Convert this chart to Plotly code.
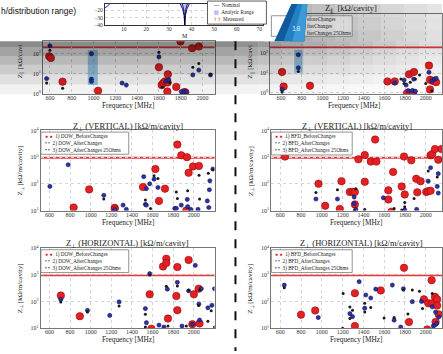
import plotly.graph_objects as go

W, H = 443, 354
SERIF = "Liberation Serif"
SANS = "Liberation Sans"


def X(p):
    return p / W


def Y(p):
    return 1 - p / H


# ---------------- data ----------------
freq_ticks = [600, 800, 1000, 1200, 1400, 1600, 1800, 2000]
z_ticks = [1, 10, 100, 1000, 10000]
z_ticktext = ["10<sup>0</sup>", "10<sup>1</sup>", "10<sup>2</sup>", "10<sup>3</sup>", "10<sup>4</sup>"]

# Panel A: Z_par DOW
A_red_f = [594, 609, 716, 1042, 1600, 1625, 1640, 1655, 1680, 1682, 1677, 1759, 1798, 1830, 1842, 1905, 1966]
A_red_z = [73, 60, 4.0, 1.4, 21, 2.7, 3.4, 4.1, 3.6, 9.3, 1.3, 2.2, 400, 1.2, 1.2, 185, 225]
A_blue_f = [570, 600, 981, 981, 981, 1262, 1301, 1600, 1665, 1690, 1805, 1835, 1850, 1911, 1966, 2073]
A_blue_z = [5.7, 240, 98, 5.3, 4.1, 3.4, 2.7, 68, 4.2, 5.0, 1.25, 1.3, 1.25, 8.6, 15, 8.6]
A_black_f = [570, 600, 717, 1600, 1630, 1700, 1911, 1966, 2073]
A_black_z = [3.4, 145, 1.9, 115, 2.1, 3.5, 21, 32, 9]
A_band_f = [948, 1039, 1039, 948]
A_band_z = [2.7, 2.7, 151, 151]
A_limit = 200

# Panel B: Z_par BFD
B_red_f = [610, 625, 880, 1629, 1700, 1820, 1838, 1875, 1886, 2031, 2041, 2070, 2041, 2100]
B_red_z = [11.5, 2.1, 2.3, 3.8, 3.8, 1.0, 8.7, 1.05, 11.5, 24, 4.6, 4.0, 1.5, 3.5]
B_blue_f = [767, 767, 610, 1700, 1790, 1810, 1883, 1830, 1870, 2031, 2060, 2085, 2100, 1900]
B_blue_z = [85, 18.6, 1.5, 3.2, 4.5, 2.5, 5.0, 1.3, 1.3, 11, 4.0, 5.0, 5.5, 1.2]
B_black_f = [610, 767, 1760, 1790, 1850, 1900, 1940, 2060, 2000]
B_black_z = [1.1, 12, 5.0, 3.0, 3.5, 5, 8, 1.3, 3.0]
B_band_f = [728, 808, 808, 728]
B_band_z = [10.5, 10.5, 151, 151]
B_limit = 200

# Panel C: Z_perp VERTICAL DOW
C_red_f = [835, 985, 1233, 1233, 1507, 1627, 1662, 1720, 1840, 1878, 1933, 1949, 1991, 2049, 1927]
C_red_z = [13, 62, 12.6, 11, 76, 360, 23, 66, 2950, 1170, 1000, 260, 450, 470, 10]
C_blue_f = [605, 782, 1127, 1233, 1314, 1346, 1514, 1540, 1572, 1614, 1652, 1530, 1540, 1815,
            1830, 1878, 1936, 1940, 1970, 2040, 2130, 2145, 2150, 2155, 2184]
C_blue_z = [80, 520, 37, 11, 16, 11, 185, 66, 100, 150, 73, 17, 16, 12,
            12, 16, 26, 14, 11, 11, 23, 13, 60, 130, 360]
C_black_f = [1127, 1530, 1614, 1652, 1830, 1840, 1940, 2050, 2055, 2140, 2184, 1580]
C_black_z = [27, 25, 200, 160, 50, 28, 55, 210, 27, 250, 340, 12]
C_limit = 950

# Panel D: Z_perp VERTICAL BFD
D_red_f = [645, 968, 1032, 1173, 1189, 1269, 1295, 1318, 1318, 1352, 1413, 1471, 1513, 1525, 1413,
           1686, 1640, 1640, 1670, 1769, 1798, 1791, 1861, 1909, 1951, 1919, 2005, 2024, 2047,
           2047, 2063, 2089, 2121, 2153]
D_red_z = [1050, 100, 15, 11.5, 126, 50, 50, 50, 17, 830, 1200, 680, 4570, 680, 120,
           280, 57, 26, 9, 80, 40, 1050, 760, 155, 126, 48, 50, 53, 55,
           1170, 1300, 2000, 800, 2000]
D_blue_f = [943, 1150, 1311, 1311, 1327, 1592, 1798, 1913, 2024, 2047, 2121, 2111, 2121]
D_blue_z = [27, 27, 32, 18, 11, 30, 10.5, 11, 126, 400, 240, 80, 45]
D_black_f = [943, 1150, 1327, 1311, 1413, 1798, 1798, 1888, 2024, 2111, 1696, 1769]
D_black_z = [47, 60, 65, 10, 11, 14, 20, 28, 300, 180, 12, 10.5]
D_limit = 950

# Panel E: Z_perp HORIZONTAL DOW
E_red_f = [711, 895, 1572, 1588, 1701, 1733, 1733, 1749, 1830, 1840, 1840, 1949, 1985, 2000, 2046, 2055]
E_red_z = [166, 28, 185, 9.5, 2050, 4000, 2750, 23, 160, 1950, 47, 3600, 14, 185, 300, 15]
E_blue_f = [711, 969, 1185, 1275, 1530, 1540, 1572, 1662, 1710, 1743, 1840, 1949, 2014, 2049,
            2072, 2055, 2136, 2175, 2200, 1985, 1885]
E_blue_z = [120, 46, 30, 96, 54, 16, 1100, 13, 11, 290, 520, 250, 2250, 80,
            300, 20, 58, 72, 300, 14, 12]
E_black_f = [711, 969, 1275, 1530, 1530, 1572, 1733, 1840, 1949, 2046, 2055, 2136, 2168, 2200, 1749, 1927]
E_black_z = [95, 40, 68, 33, 11, 980, 370, 380, 260, 70, 270, 18, 45, 11, 12, 12]
E_limit = 950

# Panel F: Z_perp HORIZONTAL BFD
F_red_f = [799, 936, 1318, 1318, 1567, 1791, 1839, 1983, 2025, 2063, 2057, 2089, 2110, 2110, 2095, 2125, 2015]
F_red_z = [32, 46, 205, 12, 260, 1830, 17, 120, 85, 85, 630, 150, 120, 70, 17, 33, 9]
F_blue_f = [638, 965, 1270, 1295, 1359, 1423, 1413, 1471, 1519, 1679, 1696, 1760, 1785, 1871,
            1959, 2063, 2073, 2089, 2105, 2125, 2095]
F_blue_z = [410, 25, 35, 27, 550, 175, 56, 135, 290, 410, 20, 11, 300, 98,
            100, 63, 12, 13, 15, 26, 40]
F_black_f = [638, 1205, 1270, 1270, 1295, 1413, 1413, 1471, 1696, 1785, 1871, 1940, 1969, 2063, 1200, 1599, 1829]
F_black_z = [330, 200, 62, 23, 47, 40, 85, 60, 25, 270, 270, 240, 55, 200, 10, 24, 34]
F_limit = 950

# inset (top-left) curve data
inset_M_ticks = [10, 20, 30, 40, 50, 60, 70]
inset_dB_ticks = [-20, -30, -40]
arc_M = [1.7, 2.2, 2.9, 3.8]
arc_dB = [-17, -15.5, -13.5, -11.5]
range_M = [35.0, 36.0, 36.7, 37.0, 37.3, 38.0, 39.0]
range_dB = [-11.5, -18, -27, -40, -27, -18, -11.5]
nom_M = [35.9, 36.5, 36.85, 37.0, 37.15, 37.5, 38.1]
nom_dB = [-11.5, -18, -27, -40, -27, -18, -11.5]

# ---------------- styles ----------------
RED = "#e32124"
BLUE = "#2a33aa"
BLACK = "#1a1a1a"
GRID = "#d4d4d4"

panels = [
    ("A", "", (43, 215), (92, 38), [536, 2110], [-0.02, 2.61],
     (A_red_f, A_red_z, A_blue_f, A_blue_z, A_black_f, A_black_z), (A_band_f, A_band_z), A_limit, z_ticks),
    ("B", "2", (270.7, 443), (92, 10), [494, 2157], [-0.065, 4],
     (B_red_f, B_red_z, B_blue_f, B_blue_z, B_black_f, B_black_z), (B_band_f, B_band_z), B_limit, [1, 10, 100]),
    ("C", "3", (40.7, 215), (210.7, 129), [515, 2200], [1, 4],
     (C_red_f, C_red_z, C_blue_f, C_blue_z, C_black_f, C_black_z), None, C_limit, z_ticks),
    ("D", "4", (271.7, 443), (210.7, 129), [511, 2157], [1, 4],
     (D_red_f, D_red_z, D_blue_f, D_blue_z, D_black_f, D_black_z), None, D_limit, z_ticks),
    ("E", "5", (40.7, 215), (330.7, 249), [515, 2200], [1, 4],
     (E_red_f, E_red_z, E_blue_f, E_blue_z, E_black_f, E_black_z), None, E_limit, z_ticks),
    ("F", "6", (271.7, 443), (330.7, 249), [511, 2157], [1, 4],
     (F_red_f, F_red_z, F_blue_f, F_blue_z, F_black_f, F_black_z), None, F_limit, z_ticks),
]

fig = go.Figure()
layout = dict(width=W, height=H, margin=dict(l=0, r=0, t=0, b=0),
              paper_bgcolor="white", plot_bgcolor="white", showlegend=False)
shapes = []
annotations = []

for name, sfx, xd, yd, xr, yr, data, band, limit, yt in panels:
    xa, ya = "x" + sfx, "y" + sfx
    layout["xaxis" + sfx] = dict(
        domain=[X(xd[0]), X(xd[1])], range=xr, anchor=ya,
        tickvals=freq_ticks, ticktext=[str(v) for v in freq_ticks],
        tickfont=dict(family=SERIF, size=6, color="#333"), ticklabelstandoff=-2,
        showline=True, linecolor="#777", linewidth=0.8, mirror=True,
        showgrid=True, gridcolor=GRID, griddash="dot", gridwidth=0.6,
        zeroline=False, ticks="")
    layout["yaxis" + sfx] = dict(
        domain=[Y(yd[0]), Y(yd[1])], range=yr, type="log", anchor=xa,
        tickvals=yt, ticktext=z_ticktext[:len(yt)],
        tickfont=dict(family=SERIF, size=6, color="#333"),
        showline=True, linecolor="#777", linewidth=0.8, mirror=True,
        showgrid=True, gridcolor=GRID, griddash="dot", gridwidth=0.6,
        zeroline=False, ticks="")
    if band is not None:
        fig.add_trace(go.Scatter(x=band[0], y=band[1], xaxis=xa, yaxis=ya, mode="lines",
                                 fill="toself", fillcolor="rgba(90,170,220,0.6)",
                                 line=dict(width=0), hoverinfo="skip"))
    shapes.append(dict(type="line", xref=xa + " domain", yref=ya, x0=0, x1=1, y0=limit, y1=limit,
                       line=dict(color="#e8393b", width=1.8), layer="below"))
    rf, rz, bf, bz, kf, kz = data
    fig.add_trace(go.Scatter(x=rf, y=rz, xaxis=xa, yaxis=ya, mode="markers",
                             marker=dict(size=7.5, color=RED, line=dict(color="#8b0000", width=0.5))))
    fig.add_trace(go.Scatter(x=bf, y=bz, xaxis=xa, yaxis=ya, mode="markers",
                             marker=dict(size=4.2, color=BLUE, line=dict(color="#0a0a40", width=0.5))))
    fig.add_trace(go.Scatter(x=kf, y=kz, xaxis=xa, yaxis=ya, mode="markers",
                             marker=dict(size=3, color=BLACK)))

# ---------------- inset ----------------
layout["xaxis7"] = dict(domain=[X(105), X(264)], range=[1.6, 71.8], anchor="y7",
                        tickvals=inset_M_ticks, tickfont=dict(family=SERIF, size=5.5, color="#333"),
                        ticklabelstandoff=-2,
                        showline=True, linecolor="#333", linewidth=0.8, mirror=True,
                        showgrid=True, gridcolor=GRID, griddash="dot", gridwidth=0.6,
                        zeroline=False, ticks="")
layout["yaxis7"] = dict(domain=[Y(21.5), 1], range=[-40, -11.5], anchor="x7",
                        tickvals=inset_dB_ticks, tickfont=dict(family=SERIF, size=5.5, color="#333"),
                        showline=True, linecolor="#333", linewidth=0.8, mirror=True,
                        showgrid=True, gridcolor=GRID, griddash="dot", gridwidth=0.6,
                        zeroline=False, ticks="")
fig.add_trace(go.Scatter(x=arc_M, y=arc_dB, xaxis="x7", yaxis="y7", mode="lines",
                         line=dict(color="#2020e0", width=1)))
fig.add_trace(go.Scatter(x=range_M, y=range_dB, xaxis="x7", yaxis="y7", mode="lines",
                         fill="toself", fillcolor="rgba(120,120,255,0.45)",
                         line=dict(color="#1515d0", width=1)))
fig.add_trace(go.Scatter(x=nom_M, y=nom_dB, xaxis="x7", yaxis="y7", mode="lines",
                         line=dict(color="#000", width=0.8)))

# ---------------- grey overlay ----------------
bands_y = [38, 44, 53, 62, 72, 82, 92]
bands_a = [0.45, 0.36, 0.28, 0.2, 0.12, 0.05]
for i in range(len(bands_a)):
    shapes.append(dict(type="rect", xref="paper", yref="paper", x0=X(0), x1=X(236),
                       y0=Y(bands_y[i + 1]), y1=Y(bands_y[i]), fillcolor="rgba(0,0,0,%.3f)" % bands_a[i],
                       line=dict(width=0), layer="above"))
cols = [236, 259, 282, 305, 328, 351, 374, 397, 420, 443]
for j in range(len(cols) - 1):
    xc = (cols[j] + cols[j + 1]) / 2
    fade = max(0.0, 1 - (xc - 236) / 280)
    for i in range(len(bands_a)):
        shapes.append(dict(type="rect", xref="paper", yref="paper", x0=X(cols[j]), x1=X(cols[j + 1]),
                           y0=Y(bands_y[i + 1]), y1=Y(bands_y[i]),
                           fillcolor="rgba(0,0,0,%.3f)" % (bands_a[i] * fade),
                           line=dict(width=0), layer="above"))
top_cols = [290, 313, 336, 359, 382, 405, 428, 443]
for j in range(len(top_cols) - 1):
    xc = (top_cols[j] + top_cols[j + 1]) / 2
    fade = max(0.0, 1 - (xc - 236) / 280)
    for (y0, y1, a) in [(0, 13, 0.36), (13, 26, 0.38), (26, 38, 0.42)]:
        shapes.append(dict(type="rect", xref="paper", yref="paper", x0=X(top_cols[j]), x1=X(top_cols[j + 1]),
                           y0=Y(y1), y1=Y(y0), fillcolor="rgba(0,0,0,%.3f)" % (a * fade),
                           line=dict(width=0), layer="above"))

# white cover of inset region over panel B's left top
shapes.append(dict(type="path", xref="paper", yref="paper", layer="above",
                   path="M %f,%f L %f,%f L %f,%f L %f,%f Z" % (X(265), Y(0), X(293), Y(0), X(276), Y(38), X(265), Y(38)),
                   fillcolor="white", line=dict(width=0)))

# legend boxes
legend_boxes = [(41, 129, 130.7, 153.3, "white"), (272, 353, 130.7, 154, "white"),
                (41, 129, 250.7, 274, "white"), (272, 353, 250.7, 274, "white"),
                (272, 353, 12, 33, "rgba(255,255,255,0.35)")]
for (x0, x1, y0, y1, fc) in legend_boxes:
    shapes.append(dict(type="rect", xref="paper", yref="paper", x0=X(x0), x1=X(x1), y0=Y(y1), y1=Y(y0),
                       fillcolor=fc, line=dict(color="#777", width=0.8), layer="above"))

# inset legend box
shapes.append(dict(type="rect", xref="paper", yref="paper", x0=X(208), x1=X(267), y0=Y(20.5), y1=Y(-3),
                   fillcolor="white", line=dict(color="#333", width=0.8), layer="above"))


def poly(pts):
    return "M " + " L ".join("%f,%f" % (X(a), Y(b)) for a, b in pts) + " Z"


# blue slide decoration
shapes.append(dict(type="path", xref="paper", yref="paper", layer="above",
                   path=poly([(292, 0), (308, 0), (305, 38), (275, 38)]), fillcolor="#115a9c", line=dict(width=0)))
shapes.append(dict(type="path", xref="paper", yref="paper", layer="above",
                   path=poly([(298, 0), (308, 0), (305, 38), (284, 38)]), fillcolor="#2380c4", line=dict(width=0)))
shapes.append(dict(type="path", xref="paper", yref="paper", layer="above",
                   path=poly([(303, 0), (308, 0), (305, 38), (293, 38)]), fillcolor="#3b9ad8", line=dict(width=0)))

# dashed divider
shapes.append(dict(type="line", xref="paper", yref="paper", x0=X(236), x1=X(236), y0=Y(38), y1=Y(354),
                   line=dict(color="#111", width=2, dash="dash"), layer="above"))


# ---------------- texts ----------------
def ann(text, x, y, size, family=SERIF, color="#222", **kw):
    d = dict(text=text, x=X(x), y=Y(y), xref="paper", yref="paper", showarrow=False,
             xanchor="center", yanchor="middle",
             font=dict(family=family, size=size, color=color))
    d.update(kw)
    annotations.append(d)


ann("h/distribution range)", -1, 7, 8.5, family=SANS, color="#111", xanchor="left")
ann("M", 185, 32.5, 6)
ann("18", 297, 25, 7.5, family=SANS, color="#cfe6f7")

ann("Z<sub>⊥</sub> (VERTICAL) [kΩ/m/cavity]", 128, 124.5, 8.5)
ann("Z<sub>⊥</sub> (VERTICAL) [kΩ/m/cavity]", 358, 124.5, 8.5)
ann("Z<sub>⊥</sub> (HORIZONTAL) [kΩ/m/cavity]", 128, 244.5, 8.5)
ann("Z<sub>⊥</sub> (HORIZONTAL) [kΩ/m/cavity]", 362, 244.5, 8.5)
ann("Z<sub>∥</sub>  [kΩ/cavity]", 352, 5, 8.5)
for (x, y) in [(128, 104), (355, 104), (128, 222.5), (357, 222.5), (128, 342), (357, 342)]:
    ann("Frequency [MHz]", x, y, 7.3)
for (x, y) in [(20, 170), (251, 170), (20, 290), (251, 290)]:
    ann("Z<sub>⊥</sub> [kΩ/m/cavity]", x, y, 7, textangle=-90)
for x in [20, 251]:
    ann("Z<sub>∥</sub> [kΩ/cavi", x, 39, 7, textangle=-90, yanchor="top")


def legend_text(prefix):
    return ("<span style='color:%s'>● ●</span>  1) %s_BeforeChanges<br>"
            "<span style='color:%s'>• •</span>  2) %s_AfterChanges<br>"
            "<span style='color:%s'>• •</span>  3) %s_AfterChanges 25Ohms") % (RED, prefix, BLUE, prefix, BLACK, prefix)


for (x, y, p) in [(43, 142, "DOW"), (274, 142.3, "BFD"), (43, 262.3, "DOW"), (274, 262.3, "BFD")]:
    ann(legend_text(p), x, y, 5.2, xanchor="left", align="left")
ann("eforeChanges<br>fterChanges<br>fterChanges 25Ohms", 306, 22.5, 5.2, xanchor="left", align="left")
ann("<span style='color:#000'>—</span>  Nominal<br><span style='color:#5050ff'>▨</span>  Analytic Range<br>"
    "<span style='color:#e32124'>† †</span>  Measured", 211, 8.3, 5.2, xanchor="left", align="left")

layout["shapes"] = shapes
layout["annotations"] = annotations
fig.update_layout(**layout)
fig.write_html("out.html", config={"displayModeBar": False},
               post_script="document.body.style.margin='0px';")
